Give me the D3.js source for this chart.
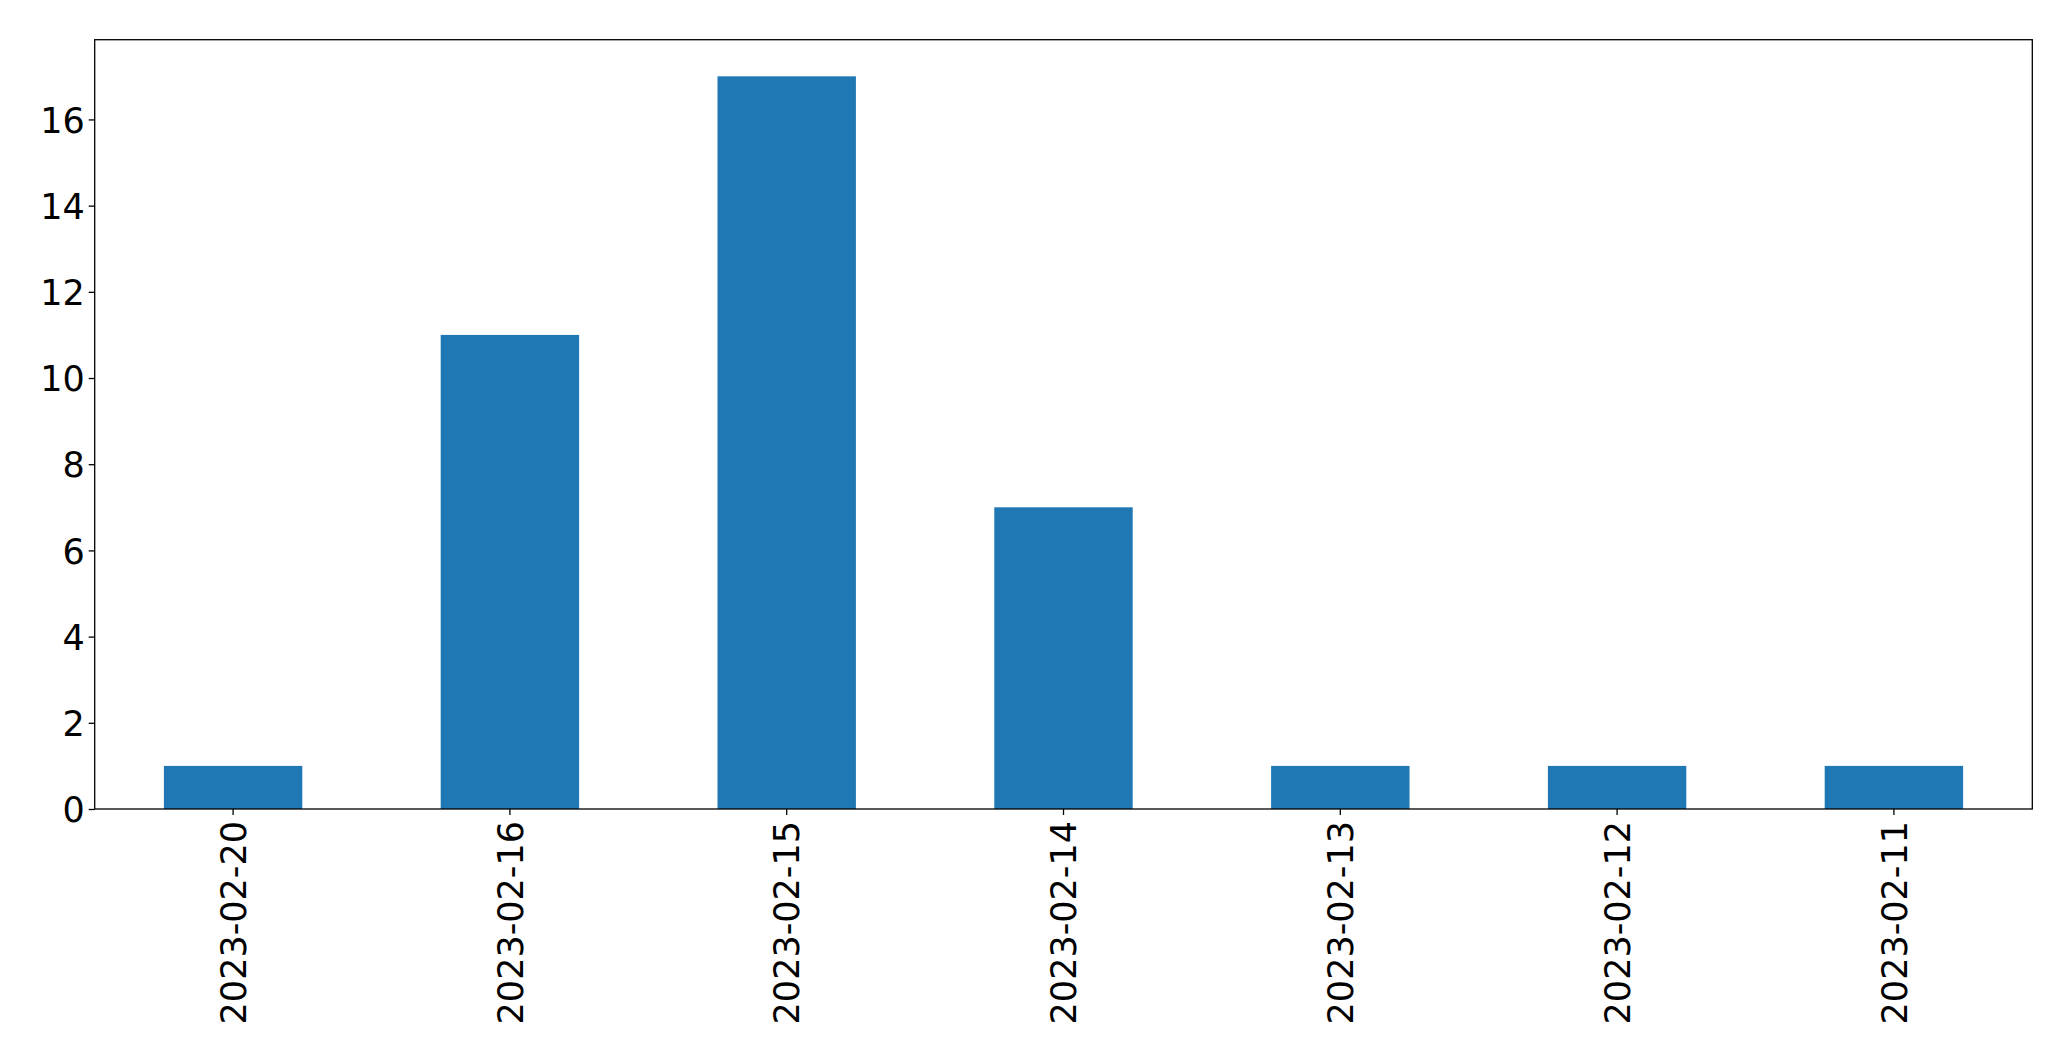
<!DOCTYPE html>
<html>
<head>
<meta charset="utf-8">
<script src="https://cdn.jsdelivr.net/npm/d3@7"></script>
<style>
  html, body { margin: 0; padding: 0; background: #fff; }
  svg { display: block; }
  text { font-family: "DejaVu Sans", sans-serif; fill: #000; }
</style>
</head>
<body>
<script>
const categories = ["2023-02-20", "2023-02-16", "2023-02-15", "2023-02-14", "2023-02-13", "2023-02-12", "2023-02-11"];
const values = [1, 11, 17, 7, 1, 1, 1];
const yTicks = [0, 2, 4, 6, 8, 10, 12, 14, 16];

const W = 2071, H = 1061;
const mLeft = 94.7, mRight = 2032.3, mTop = 39.7, mBottom = 809;
const fontSize = 35;

const svg = d3.select("body").append("svg").attr("width", W).attr("height", H);

const x = d3.scaleBand().domain(categories).range([mLeft, mRight]).paddingInner(0.5).paddingOuter(0.25);
const y = d3.scaleLinear().domain([0, d3.max(values) * 1.05]).range([mBottom, mTop]);

// bars
svg.append("g").selectAll("rect").data(values).join("rect")
  .attr("x", (d, i) => x(categories[i]))
  .attr("width", x.bandwidth())
  .attr("y", d => y(d))
  .attr("height", d => y(0) - y(d))
  .attr("fill", "#1f77b4");

// y axis
const yAxis = d3.axisLeft(y).tickValues(yTicks).tickSize(6).tickPadding(4).tickFormat(d3.format("d"));
const gy = svg.append("g").attr("transform", `translate(${mLeft},0)`).call(yAxis);
gy.select(".domain").remove();
gy.selectAll(".tick line").attr("stroke", "#000").attr("stroke-width", 1.3);
gy.selectAll(".tick text").attr("font-size", fontSize).attr("font-family", "DejaVu Sans").attr("dy", "0.36em");

// x axis
const xAxis = d3.axisBottom(x).tickSize(6).tickPadding(0);
const gx = svg.append("g").attr("transform", `translate(0,${mBottom})`).call(xAxis);
gx.select(".domain").remove();
gx.selectAll(".tick line").attr("stroke", "#000").attr("stroke-width", 1.3);
gx.selectAll(".tick text")
  .attr("font-size", fontSize).attr("font-family", "DejaVu Sans")
  .attr("text-anchor", "end")
  .attr("transform", "translate(0,12) rotate(-90)")
  .attr("x", 0).attr("y", 0).attr("dy", "0.36em");

// frame
svg.append("rect")
  .attr("x", mLeft).attr("y", mTop)
  .attr("width", mRight - mLeft).attr("height", mBottom - mTop)
  .attr("fill", "none").attr("stroke", "#000").attr("stroke-width", 1.3);
</script>
</body>
</html>
